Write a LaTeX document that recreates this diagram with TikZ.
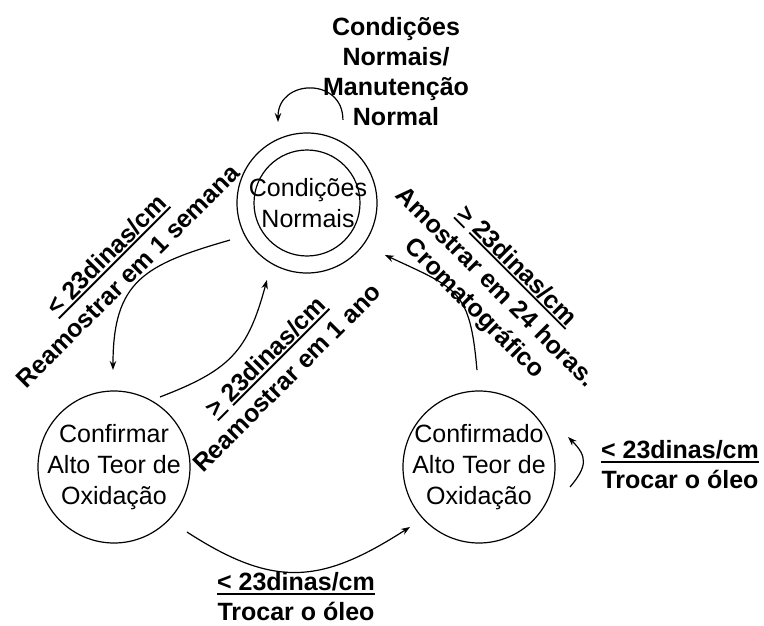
\documentclass[tikz,border=0pt]{standalone}
\usepackage{fontspec}
\setmainfont{Liberation Sans}
\usetikzlibrary{calc,arrows.meta}
% underline with a heavier rule than \underline gives
\newcommand\ulbox[1]{\setbox0\hbox{#1}\leavevmode\rlap{\rule[-3.6pt]{\wd0}{1.8pt}}\box0}
\begin{document}
\begin{tikzpicture}[x=1pt,y=1pt,
  ring/.style={circle, draw, line width=1.2pt, inner sep=0pt},
  statetext/.style={align=center, font=\fontsize{25}{31}\selectfont, inner sep=0pt},
  lbl/.style={align=center, font=\fontsize{25}{30}\selectfont\bfseries, inner sep=0pt},
  conn/.style={line width=1.2pt, -{Stealth[length=9pt,width=6.5pt]}}]

\useasboundingbox (0,0) rectangle (764,-626);

% states
\node[ring, minimum size=140pt] (top) at (307,-203) {};
\node[ring, minimum size=106pt] (topin) at (top) {};
\node[statetext] (toptext) at (308,-203) {Condições\\Normais};

\node[ring, minimum size=152pt] (left) at (114,-467) {};
\node[statetext] (lefttext) at (left) {Confirmar\\Alto Teor de\\Oxidação};

\node[ring, minimum size=152pt] (right) at (479,-467) {};
\node[statetext] (righttext) at (right) {Confirmado\\Alto Teor de\\Oxidação};

% connector end points, just off the circles
\coordinate (s1) at ($(top)+(66.6:90.5pt)$);
\coordinate (e1) at ($(top)+(109.7:86pt)$);
\coordinate (s2) at ($(top)+(205.7:85.4pt)$);
\coordinate (e2) at ($(left)+(90.6:97pt)$);
\coordinate (s3) at ($(left)+(56.7:83.8pt)$);
\coordinate (e3) at ($(top)+(242.5:86.8pt)$);
\coordinate (s4) at ($(right)+(91.2:97pt)$);
\coordinate (e4) at ($(top)+(-33.7:93.7pt)$);
\coordinate (s5) at ($(left)+(-41.7:97.7pt)$);
\coordinate (e5) at ($(right)+(221:91.4pt)$);
\coordinate (s6) at ($(right)+(-12.4:93.2pt)$);
\coordinate (e6) at ($(right)+(18.6:94pt)$);

% transitions
\draw[conn] (s1) to[out=90, in=90, looseness=1.7] (e1);
\draw[conn] (s2) to[out=196, in=90, looseness=1.3] (e2);
\draw[conn] (s3) to[out=21, in=255, looseness=1.2] (e3);
\draw[conn] (s4) to[out=95, in=335, looseness=1.4] (e4);
\draw[conn] (s5) to[out=-33, in=212.7, looseness=1.2] (e5);
\draw[conn] (s6) to[out=50, in=-45, looseness=1.4] (e6);

% transition labels
\node[lbl] (ltop) at (396,-72) {Condições\\Normais/\\Manutenção\\Normal};
\node[lbl, rotate=45] (lweek) at (117,-265) {\ulbox{< 23dinas/cm}\\Reamostrar em 1 semana};
\node[lbl, rotate=45] (lyear) at (276,-367) {\ulbox{>}\ \ulbox{23dinas/cm}\\Reamostrar em 1 ano};
\node[lbl, rotate=-45] (lhours) at (495,-288) {\ulbox{>}\ \ulbox{23dinas/cm}\\Amostrar em 24 horas.\\Cromatográfico};
\node[lbl] (lbottom) at (296,-597) {\ulbox{< 23dinas/cm}\\Trocar o óleo};
\node[lbl] (lside) at (680,-465) {\ulbox{< 23dinas/cm}\\Trocar o óleo};
\end{tikzpicture}
\end{document}
